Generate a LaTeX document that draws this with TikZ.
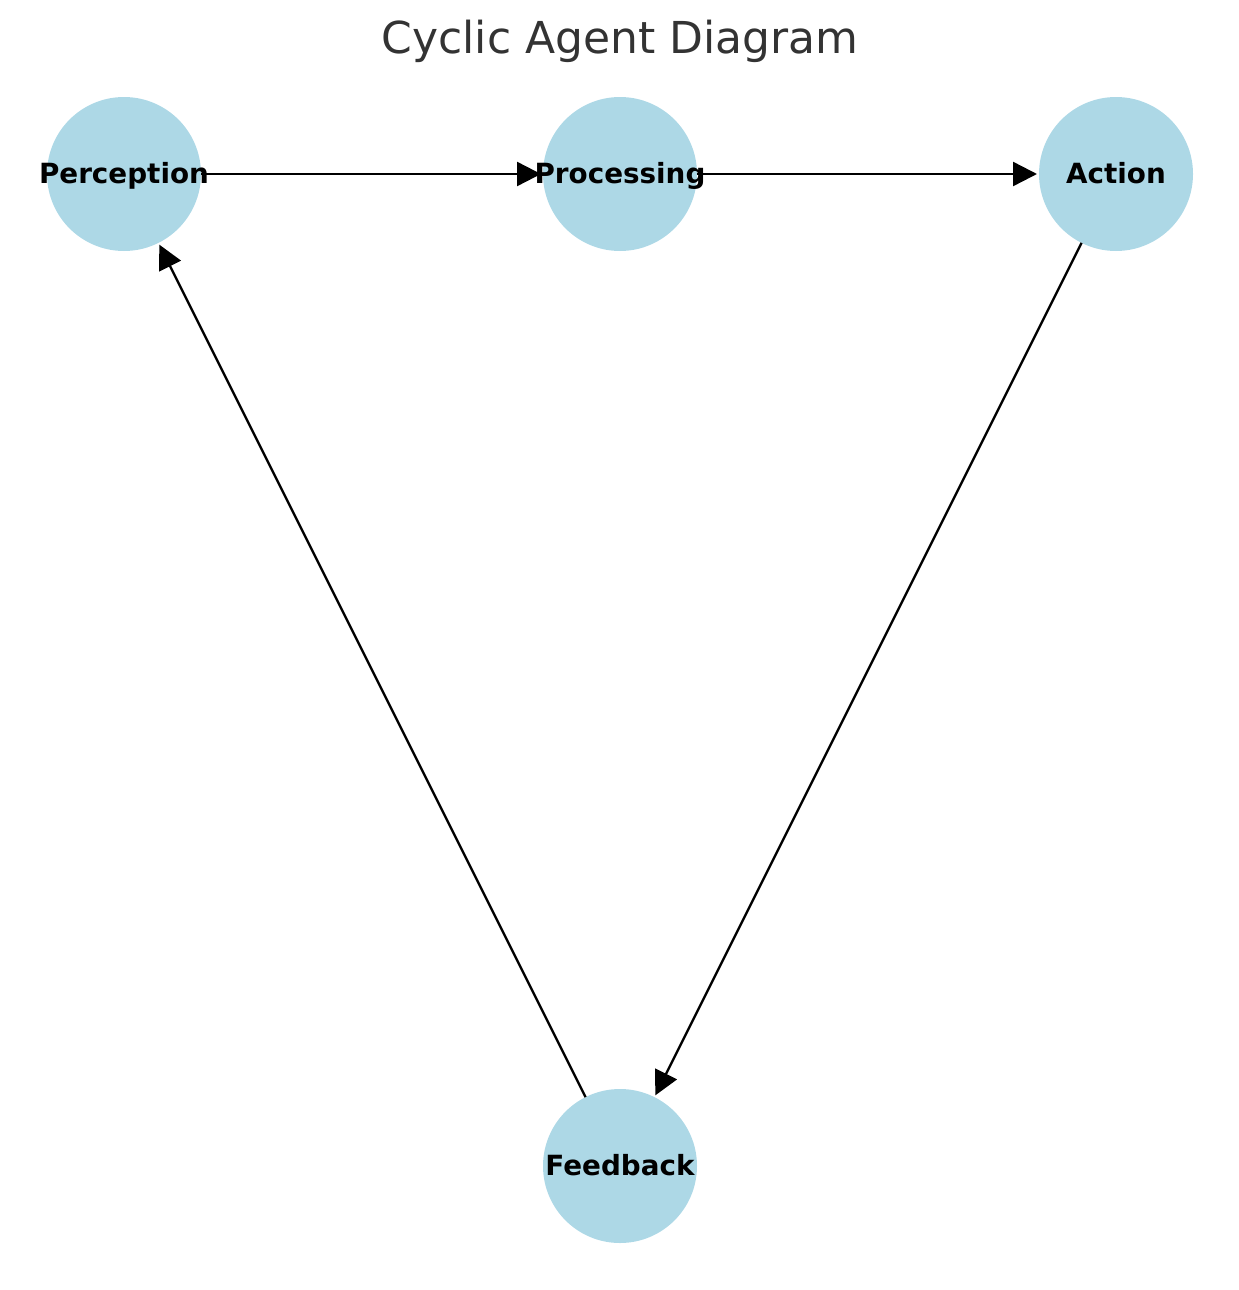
\documentclass[tikz,border=0pt]{standalone}
\usepackage{fontspec}
\setmainfont{DejaVu Sans}
\usetikzlibrary{arrows.meta}
\definecolor{nodeblue}{HTML}{ADD8E6}
\definecolor{titlegray}{HTML}{333333}
\tikzset{
  agent/.style={circle, fill=nodeblue, minimum size=154pt, inner sep=0pt, outer sep=0pt},
  agentlabel/.style={anchor=base, inner sep=0pt, font=\fontsize{27.8}{30}\selectfont\bfseries},
  flow/.style={draw=black, line width=2.4pt, shorten >=2pt, -{Triangle[length=24pt,width=24pt]}},
}
\begin{document}
\begin{tikzpicture}[x=1pt,y=-1pt]
\useasboundingbox (0,0) rectangle (1239,1290);
\node[anchor=base, inner sep=0pt, text=titlegray, font=\fontsize{44}{48}\selectfont] (title) at (620,53.5) {Cyclic Agent Diagram};
\node[agent] (per) at (124,174) {};
\node[agent] (pro) at (620,174) {};
\node[agent] (act) at (1116,174) {};
\node[agent] (fee) at (620,1166) {};
\draw[flow] (per) -- (pro);
\draw[flow] (pro) -- (act);
\draw[flow] (act) -- (fee);
\draw[flow] (fee) -- (per);
\node[agentlabel] (perl) at (124,183.5) {Perception};
\node[agentlabel] (prol) at (620,183.5) {Processing};
\node[agentlabel] (actl) at (1116,183.5) {Action};
\node[agentlabel] (feel) at (620,1175.5) {Feedback};
\end{tikzpicture}
\end{document}
